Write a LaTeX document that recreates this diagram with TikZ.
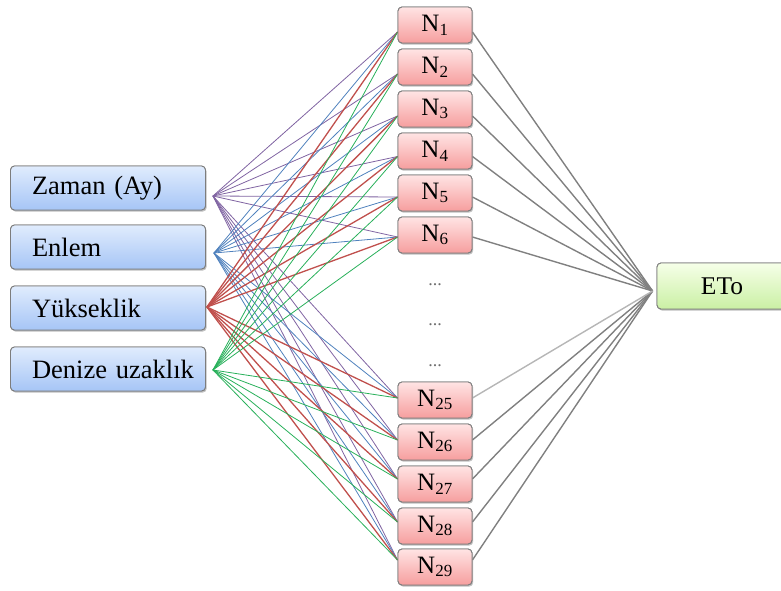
\documentclass[tikz,border=0pt]{standalone}
\usepackage{fontspec}
\setmainfont{Liberation Serif}
\usetikzlibrary{shadows}
\definecolor{cPurple}{RGB}{128,100,162}
\definecolor{cBlue}{RGB}{79,129,189}
\definecolor{cRed}{RGB}{192,80,77}
\definecolor{cGreen}{RGB}{40,176,90}
\definecolor{cGray}{RGB}{110,110,110}
\definecolor{cLightGray}{RGB}{182,182,182}
\definecolor{cBorder}{RGB}{125,125,125}
\definecolor{inTop}{RGB}{224,236,253}
\definecolor{inBot}{RGB}{166,197,246}
\definecolor{hidTop}{RGB}{255,228,228}
\definecolor{hidBot}{RGB}{246,158,158}
\definecolor{outTop}{RGB}{246,255,232}
\definecolor{outBot}{RGB}{202,240,164}
\tikzset{
  basebox/.style={draw=cBorder, line width=0.9pt, rounded corners=4pt,
    drop shadow={opacity=0.28, shadow xshift=1.2pt, shadow yshift=-1.6pt}},
  inbox/.style={basebox, top color=inTop, bottom color=inBot,
    minimum height=44pt, text width=152pt, inner xsep=21.5pt, align=left,
    font=\fontsize{26.5}{30}\selectfont},
  hidbox/.style={basebox, top color=hidTop, bottom color=hidBot,
    minimum height=36pt, minimum width=74pt, inner sep=0pt,
    font=\fontsize{25}{28}\selectfont},
  outbox/.style={basebox, top color=outTop, bottom color=outBot,
    minimum height=46pt, minimum width=130pt, inner sep=0pt,
    font=\fontsize{25.5}{28}\selectfont},
  dotsnode/.style={text=cGray, font=\fontsize{18}{20}\selectfont, inner sep=0pt},
  inline/.style={line width=0.8pt},
  redline/.style={line width=1.3pt},
  outline/.style={line width=1.4pt, draw=gray},
}
\newcommand{\hsub}[1]{N\textsubscript{\fontsize{17}{18}\selectfont #1}}
\begin{document}
\begin{tikzpicture}[x=1pt,y=-1pt]
\useasboundingbox (0,0) rectangle (781,590);
\clip (0,0) rectangle (781,590);

% input nodes
\node[inbox] (zaman) at (108,188) {\mbox{Zaman (Ay)}};
\node[inbox] (enlem) at (108,247) {\mbox{Enlem}};
\node[inbox] (yuk)   at (108,308) {\mbox{Yükseklik}};
\node[inbox] (deniz) at (108,369) {\mbox{Denize uzaklık}};

% hidden nodes
\foreach \n/\y in {1/25,2/67,3/109,4/151,5/193,6/235,25/400,26/442,27/484,28/526,29/567}{
  \node[hidbox] (h\n) at (435,\y) {\hsub{\n}};
}
% dots
\node[dotsnode] (d1) at (435,285) {...};
\node[dotsnode] (d2) at (435,325) {...};
\node[dotsnode] (d3) at (435,366) {...};

% output node
\node[outbox] (eto) at (722,286) {ETo};

% connector endpoints
\coordinate (oz) at ([shift={(7pt,-8pt)}]zaman.east);
\coordinate (oe) at ([shift={(8pt,-6pt)}]enlem.east);
\coordinate (oy) at ([shift={(1pt,1pt)}]yuk.east);
\coordinate (od) at ([shift={(7pt,-1pt)}]deniz.east);
\coordinate (ce) at ([shift={(-4pt,-5pt)}]eto.west);
\foreach \n/\dy in {1/-7,2/-7,3/-7,4/-5.5,5/-4,6/-2,25/2,26/2,27/5,28/4,29/7}{
  \coordinate (l\n) at ([yshift=\dy pt]h\n.west);
  \coordinate (r\n) at ([yshift=\dy pt]h\n.east);
}

% left connectors
\foreach \n in {1,2,3,4,5,6,25,26,27,28,29}{
  \draw[inline, cPurple] (oz) -- (l\n);
}
\foreach \n in {1,2,3,4,5,6,25,26,27,28,29}{
  \draw[inline, cBlue] (oe) -- (l\n);
}
\foreach \n in {1,2,3,4,5,6,25,26,27,28,29}{
  \draw[redline, cRed] (oy) -- (l\n);
}
\foreach \n in {1,2,3,4,5,6,25,26,27,28,29}{
  \draw[inline, cGreen] (od) -- (l\n);
}

% right connectors
\foreach \n in {1,2,3,4,5,6,26,27,28,29}{
  \draw[outline] (r\n) -- (ce);
}
\draw[outline, draw=cLightGray] (r25) -- (ce);

% redraw nodes on top of lines
\node[inbox] at (zaman) {\mbox{Zaman (Ay)}};
\node[inbox] at (enlem) {\mbox{Enlem}};
\node[inbox] at (yuk) {\mbox{Yükseklik}};
\node[inbox] at (deniz) {\mbox{Denize uzaklık}};
\foreach \n/\y in {1/25,2/67,3/109,4/151,5/193,6/235,25/400,26/442,27/484,28/526,29/567}{
  \node[hidbox] at (h\n) {\hsub{\n}};
}
\node[outbox] at (eto) {ETo};
\end{tikzpicture}
\end{document}
